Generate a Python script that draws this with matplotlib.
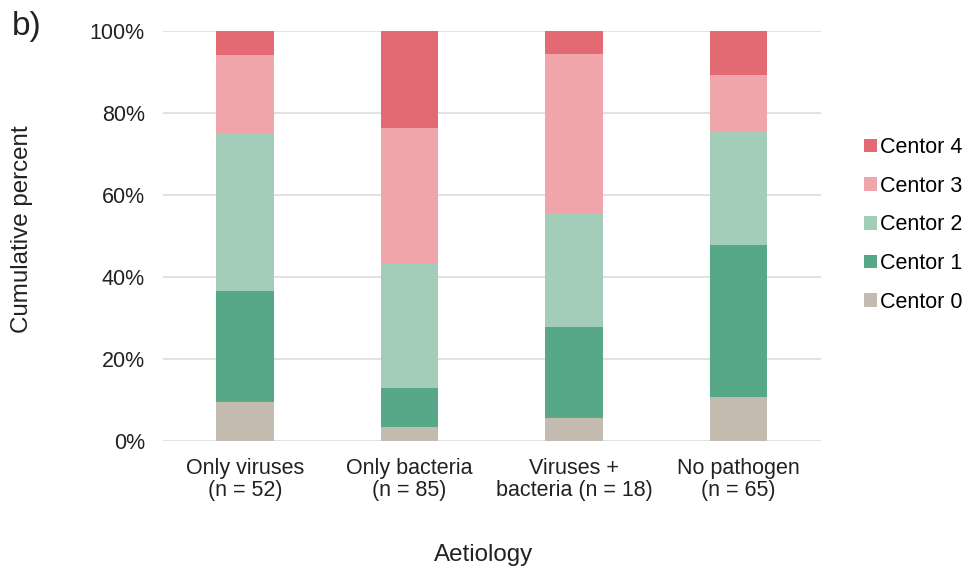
import matplotlib
matplotlib.use("Agg")
import matplotlib.pyplot as plt
import numpy as np

categories = ["Only viruses\n(n = 52)", "Only bacteria\n(n = 85)", "Viruses +\nbacteria (n = 18)", "No pathogen\n(n = 65)"]
series_names = ["Centor 0", "Centor 1", "Centor 2", "Centor 3", "Centor 4"]
centor0 = [9.6, 3.5, 5.6, 10.8]
centor1 = [26.9, 9.4, 22.2, 36.9]
centor2 = [38.5, 30.6, 27.8, 27.7]
centor3 = [19.2, 32.9, 38.9, 13.8]
centor4 = [5.8, 23.5, 5.6, 10.8]
colors = ["#C4BBB0", "#57A888", "#A3CDB9", "#F0A5AA", "#E36A73"]
yticks = [0, 20, 40, 60, 80, 100]

plt.rcParams['font.family'] = ['Liberation Sans', 'DejaVu Sans']

fig = plt.figure(figsize=(9.7, 5.69), dpi=100)
ax = fig.add_axes([0.168, 0.225, 0.678, 0.7205])

x = np.arange(len(categories))
bottom = np.zeros(len(categories))
handles = []
for name, vals, c in zip(series_names, [centor0, centor1, centor2, centor3, centor4], colors):
    h = ax.bar(x, vals, bottom=bottom, width=0.35, color=c, label=name, zorder=3)
    handles.append(h)
    bottom += np.array(vals)

ax.set_xlim(-0.5, 3.5)
ax.set_ylim(0, 100)
ax.set_yticks(yticks)
ax.set_yticklabels([f"{t}%" for t in yticks], fontsize=15.5, color="#222222")
ax.set_xticks(x)
ax.set_xticklabels(categories, fontsize=15.5, color="#222222", linespacing=1.1)
ax.tick_params(axis='y', length=0, pad=13)
ax.tick_params(axis='x', length=0, pad=12)
ax.yaxis.grid(True, color="#DDDDDD", linewidth=1.2, zorder=0)
ax.xaxis.grid(False)
for s in ax.spines.values():
    s.set_visible(False)

fig.text(22 / 970, 1 - 229 / 569, "Cumulative percent", fontsize=17.4, color="#222222",
         rotation=90, ha="center", va="center")
fig.text(484 / 970, 1 - 555 / 569, "Aetiology", fontsize=17.4, color="#222222",
         ha="center", va="center")

leg = ax.legend(handles[::-1], series_names[::-1], loc="center left", bbox_to_anchor=(1.037, 0.527),
                frameon=False, fontsize=15.5, handlelength=0.6, handleheight=0.6,
                handletextpad=0.15, labelspacing=0.82)

fig.text(12 / 970, 1 - 27 / 569, "b)", fontsize=24, color="#222222", va="center")

fig.savefig("out.png", dpi=100)
